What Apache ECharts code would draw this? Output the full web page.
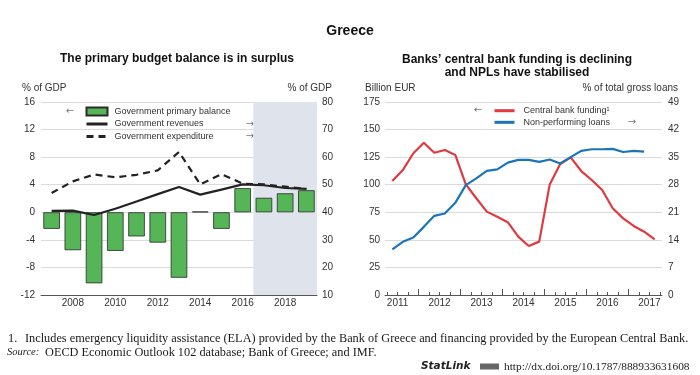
<!DOCTYPE html>
<html><head><meta charset="utf-8">
<script src="https://cdn.jsdelivr.net/npm/echarts@6/dist/echarts.min.js"></script>
<style>html,body{margin:0;padding:0;background:#fff}#c{width:700px;height:375px}</style>
</head><body><div id="c"></div>
<script>
// ---- Left panel data ----
const years = ['2007','2008','2009','2010','2011','2012','2013','2014','2015','2016','2017','2018','2019'];
const primaryBalance = [-2.4, -5.5, -10.3, -5.6, -3.5, -4.4, -9.5, 0.1, -2.4, 3.5, 2.1, 2.75, 3.2];
const revenues = [40.5, 40.6, 39.0, 41.3, 43.9, 46.6, 49.2, 46.4, 48.2, 50.1, 49.8, 48.8, 48.5];
const expenditure = [47.0, 51.2, 53.7, 52.7, 53.6, 55.2, 61.9, 50.1, 53.8, 50.4, 50.1, 49.3, 48.5];
const projectionYears = ['2017', '2019'];
const leftAxisTicks = [-12, -8, -4, 0, 4, 8, 12, 16];
const leftRightAxisTicks = [10, 20, 30, 40, 50, 60, 70, 80];

// ---- Right panel data ----
const quarters = ['2011Q2','2011Q3','2011Q4','2012Q1','2012Q2','2012Q3','2012Q4','2013Q1','2013Q2','2013Q3','2013Q4',
  '2014Q1','2014Q2','2014Q3','2014Q4','2015Q1','2015Q2','2015Q3','2015Q4','2016Q1','2016Q2','2016Q3','2016Q4',
  '2017Q1','2017Q2','2017Q3'];
const centralBankFunding = [103.4, 113.3, 128.5, 138.0, 129.0, 131.5, 127.0, 100.3, 87.7, 75.6, 71.0, 66.0, 52.9,
  44.4, 48.4, 100.3, 118.8, 124.8, 112.4, 104.3, 95.2, 78.6, 69.5, 62.6, 57.4, 50.5];
const nonPerformingLoans = [11.6, 13.5, 14.6, 17.3, 20.1, 20.7, 23.4, 27.9, 29.6, 31.5, 31.9, 33.6, 34.3,
  34.3, 33.8, 34.4, 33.4, 35.0, 36.6, 37.0, 37.0, 37.1, 36.3, 36.6, 36.4];
const xYears = ['2011','2012','2013','2014','2015','2016','2017'];
const rightAxisTicks = [0, 25, 50, 75, 100, 125, 150, 175];
const rightRightAxisTicks = [0, 7, 14, 21, 28, 35, 42, 49];

// helpers (category -> decimal year at mid-quarter)
const qx = q => +q.slice(0, 4) + (+q.slice(5) - 0.5) / 4;
const yearNums = xYears.map(Number);
const quarterBounds = [];
yearNums.forEach(y => [0, 0.25, 0.5, 0.75].forEach(f => quarterBounds.push(y + f)));
const yearBounds = yearNums.slice(1);
const yearMids = yearNums.map(y => y + 0.5);

const FONT = 'Liberation Sans';
const SERIF = 'Liberation Serif';
const axisGrey = '#555';
const gridGrey = '#dadada';
const txt = '#333';

const chart = echarts.init(document.getElementById('c'), null, {renderer: 'canvas'});

const tickLabel = {fontSize: 10, color: txt, fontFamily: FONT};
const hiddenSymbol = {color: 'rgba(0,0,0,0)', borderWidth: 0, opacity: 0};

const option = {
  animation: false,
  textStyle: {fontFamily: FONT},
  grid: [
    {left: 41, right: 383, top: 102, bottom: 80},
    {left: 385, right: 38, top: 102, bottom: 80}
  ],
  xAxis: [
    {type: 'category', gridIndex: 0, data: years, boundaryGap: true, position: 'bottom',
      axisLine: {onZero: false, lineStyle: {color: axisGrey}},
      axisTick: {interval: 0, inside: true, length: 4, lineStyle: {color: axisGrey}},
      axisLabel: Object.assign({interval: (i) => i % 2 === 1, margin: 3}, tickLabel),
      splitLine: {show: false}},
    {type: 'value', gridIndex: 0, min: 0, max: years.length, show: false, position: 'bottom'},
    {type: 'value', gridIndex: 1, min: 2011.2, max: 2017.8, position: 'bottom',
      axisLine: {onZero: false, lineStyle: {color: axisGrey}},
      axisTick: {inside: true, length: 3, customValues: quarterBounds, lineStyle: {color: axisGrey}},
      axisLabel: Object.assign({customValues: yearMids, margin: 3,
        formatter: v => String(Math.round(v - 0.5))}, tickLabel),
      splitLine: {show: false}},
    {type: 'value', gridIndex: 1, min: 2011.2, max: 2017.8, position: 'bottom',
      axisLine: {show: false, onZero: false},
      axisTick: {inside: true, length: 6, customValues: yearBounds, lineStyle: {color: axisGrey}},
      axisLabel: {show: false},
      splitLine: {show: false}}
  ],
  yAxis: [
    {type: 'value', gridIndex: 0, position: 'left', min: leftAxisTicks[0], max: leftAxisTicks[leftAxisTicks.length - 1], interval: 4,
      axisLine: {show: false}, axisTick: {show: false},
      axisLabel: Object.assign({margin: 6}, tickLabel),
      splitLine: {lineStyle: {color: gridGrey}}},
    {type: 'value', gridIndex: 0, position: 'right', min: leftRightAxisTicks[0], max: leftRightAxisTicks[leftRightAxisTicks.length - 1], interval: 10,
      axisLine: {show: false}, axisTick: {show: false},
      axisLabel: Object.assign({margin: 5}, tickLabel),
      splitLine: {show: false}},
    {type: 'value', gridIndex: 1, position: 'left', min: rightAxisTicks[0], max: rightAxisTicks[rightAxisTicks.length - 1], interval: 25,
      axisLine: {show: false}, axisTick: {show: false},
      axisLabel: Object.assign({margin: 5}, tickLabel),
      splitLine: {lineStyle: {color: gridGrey}}},
    {type: 'value', gridIndex: 1, position: 'right', min: rightRightAxisTicks[0], max: rightRightAxisTicks[rightRightAxisTicks.length - 1], interval: 7,
      axisLine: {show: false}, axisTick: {show: false},
      axisLabel: Object.assign({margin: 6}, tickLabel),
      splitLine: {show: false}}
  ],
  legend: [
    {left: 85, top: 105.5, orient: 'vertical', itemWidth: 21, itemHeight: 8, itemGap: 0.5, padding: 0,
      textStyle: {fontSize: 9, lineHeight: 12, color: txt, fontFamily: FONT, padding: [0, 0, 0, 2]},
      data: [
        {name: 'Government primary balance', icon: 'rect'},
        {name: 'Government revenues', lineStyle: {width: 3}, itemStyle: hiddenSymbol},
        {name: 'Government expenditure', lineStyle: {width: 3}, itemStyle: hiddenSymbol}
      ]},
    {left: 493, top: 105.2, orient: 'vertical', itemWidth: 20, itemHeight: 8, itemGap: 0.6, padding: 0,
      textStyle: {fontSize: 9, lineHeight: 11, color: txt, fontFamily: FONT, padding: [0, 0, 0, 4]},
      data: [
        {name: 'Central bank funding¹', lineStyle: {width: 3}, itemStyle: hiddenSymbol},
        {name: 'Non-performing loans', lineStyle: {width: 3}, itemStyle: hiddenSymbol}
      ]}
  ],
  series: [
    {type: 'line', name: 'shade', xAxisIndex: 1, yAxisIndex: 0, data: [], silent: true,
      markArea: {silent: true, itemStyle: {color: '#dfe4ec'},
        data: [[{xAxis: years.indexOf(projectionYears[0])}, {xAxis: years.indexOf(projectionYears[1]) + 1}]]}},
    {type: 'bar', name: 'Government primary balance', xAxisIndex: 0, yAxisIndex: 0, data: primaryBalance,
      barWidth: '78%', itemStyle: {color: '#56b556', borderColor: '#2a2a2a', borderWidth: 0.8}},
    {type: 'line', name: 'Government revenues', xAxisIndex: 0, yAxisIndex: 1, data: revenues,
      symbol: 'none', lineStyle: {color: '#222', width: 2.2}, itemStyle: {color: '#222'}},
    {type: 'line', name: 'Government expenditure', xAxisIndex: 0, yAxisIndex: 1, data: expenditure,
      symbol: 'none', lineStyle: {color: '#222', width: 2.2, type: [7, 5]}, itemStyle: {color: '#222'}},
    {type: 'line', name: 'Central bank funding¹', xAxisIndex: 2, yAxisIndex: 2,
      data: quarters.map((q, i) => [qx(q), centralBankFunding[i]]),
      symbol: 'none', lineStyle: {color: '#e03a40', width: 2.2}, itemStyle: {color: '#e03a40'}},
    {type: 'line', name: 'Non-performing loans', xAxisIndex: 2, yAxisIndex: 3,
      data: quarters.slice(0, nonPerformingLoans.length).map((q, i) => [qx(q), nonPerformingLoans[i]]),
      symbol: 'none', lineStyle: {color: '#1c74b8', width: 2.2}, itemStyle: {color: '#1c74b8'}}
  ],
  graphic: [
    {type: 'text', x: 350, y: 31, style: {text: 'Greece', font: 'bold 14px ' + FONT, fill: '#111', align: 'center', verticalAlign: 'middle'}},
    {type: 'text', x: 177, y: 59, style: {text: 'The primary budget balance is in surplus', font: 'bold 12px ' + FONT, fill: '#111', align: 'center', verticalAlign: 'middle'}},
    {type: 'text', x: 517, y: 65.8, style: {text: 'Banks\u2019 central bank funding is declining\nand NPLs have stabilised', font: 'bold 12px ' + FONT, lineHeight: 13, fill: '#111', align: 'center', verticalAlign: 'middle'}},
    {type: 'text', x: 22, y: 88, style: {text: '% of GDP', font: '10px ' + FONT, fill: txt, align: 'left', verticalAlign: 'middle'}},
    {type: 'text', x: 332, y: 88, style: {text: '% of GDP', font: '10px ' + FONT, fill: txt, align: 'right', verticalAlign: 'middle'}},
    {type: 'text', x: 365, y: 88, style: {text: 'Billion EUR', font: '10px ' + FONT, fill: txt, align: 'left', verticalAlign: 'middle'}},
    {type: 'text', x: 678, y: 88, style: {text: '% of total gross loans', font: '10px ' + FONT, fill: txt, align: 'right', verticalAlign: 'middle'}},
    {type: 'text', x: 70, y: 111.5, style: {text: '\u2190', font: '10px DejaVu Sans', fill: '#777', align: 'center', verticalAlign: 'middle'}},
    {type: 'text', x: 250, y: 124, style: {text: '\u2192', font: '10px DejaVu Sans', fill: '#777', align: 'center', verticalAlign: 'middle'}},
    {type: 'text', x: 250, y: 136.5, style: {text: '\u2192', font: '10px DejaVu Sans', fill: '#777', align: 'center', verticalAlign: 'middle'}},
    {type: 'text', x: 478, y: 110.7, style: {text: '\u2190', font: '10px DejaVu Sans', fill: '#777', align: 'center', verticalAlign: 'middle'}},
    {type: 'text', x: 632, y: 122.3, style: {text: '\u2192', font: '10px DejaVu Sans', fill: '#777', align: 'center', verticalAlign: 'middle'}},
    {type: 'text', x: 8, y: 339, style: {text: '1.', font: '12.3px ' + SERIF, fill: '#1a1a1a', align: 'left', verticalAlign: 'middle'}},
    {type: 'text', x: 25, y: 339, style: {text: 'Includes emergency liquidity assistance (ELA) provided by the Bank of Greece and financing provided by the European Central Bank.', font: '12.3px ' + SERIF, fill: '#1a1a1a', align: 'left', verticalAlign: 'middle'}},
    {type: 'text', x: 7, y: 352.3, style: {text: 'Source:', font: 'italic 10.5px ' + SERIF, fill: '#1a1a1a', align: 'left', verticalAlign: 'middle'}},
    {type: 'text', x: 45, y: 352.3, style: {text: 'OECD Economic Outlook 102 database; Bank of Greece; and IMF.', font: '12.3px ' + SERIF, fill: '#1a1a1a', align: 'left', verticalAlign: 'middle'}},
    {type: 'text', x: 421, y: 366.7, style: {text: 'StatLink', font: 'italic bold 10.5px DejaVu Sans', fill: '#222', align: 'left', verticalAlign: 'middle'}},
    {type: 'rect', shape: {x: 480, y: 363.5, width: 19, height: 6}, style: {fill: '#666'}},
    {type: 'text', x: 504, y: 366.7, style: {text: 'http://dx.doi.org/10.1787/888933631608', font: '11.4px ' + SERIF, fill: '#1a1a1a', align: 'left', verticalAlign: 'middle'}}
  ]
};
chart.setOption(option);
</script>
</body></html>
